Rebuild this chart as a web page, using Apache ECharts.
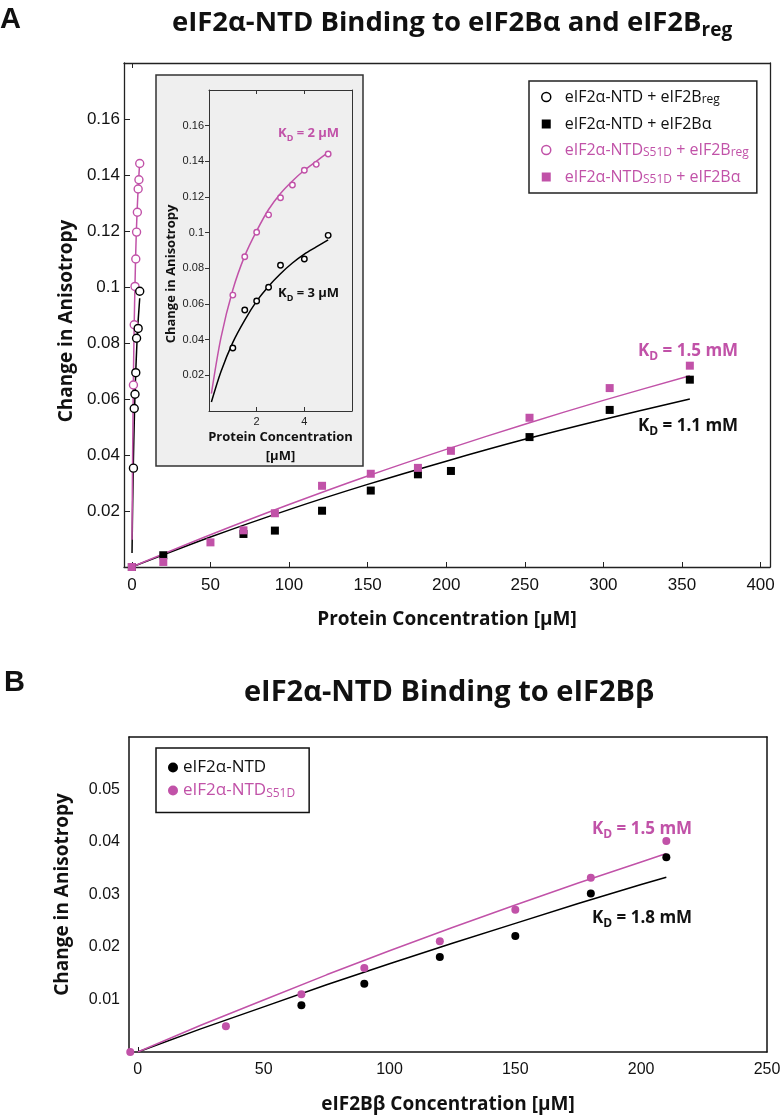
<!DOCTYPE html>
<html><head><meta charset="utf-8">
<script src="https://cdn.jsdelivr.net/npm/echarts@6/dist/echarts.min.js"></script>
<style>html,body{margin:0;padding:0;background:#fff}#c{width:781px;height:1116px}</style>
</head><body><div id="c"></div>
<script>
const MAG = '#c152a8';
const BLK = '#000000';
const UI = "'Open Sans', 'Noto Sans', sans-serif";
const NUM = "'Liberation Sans', Arial, sans-serif";

// ---- Panel A, low concentration (µM) : eIF2Breg ----
const regX = [1, 1.5, 2, 2.5, 3, 3.5, 4, 4.5, 5];
const s51dRegY = [0.065, 0.0865, 0.1002, 0.110, 0.1196, 0.1267, 0.135, 0.1383, 0.1441];
const ntdRegX = [1, 1.5, 2, 2.5, 3, 4, 5];
const ntdRegY = [0.0353, 0.0566, 0.0617, 0.0694, 0.0817, 0.0852, 0.0985];
const fitRegX = [0.1, 0.5, 1, 1.5, 2, 2.5, 3, 3.5, 4, 4.5, 5];
const fitS51dRegY = [0.0097, 0.041, 0.068, 0.087, 0.101, 0.113, 0.122, 0.129, 0.135, 0.140, 0.145];
const fitNtdRegY = [0.005, 0.022, 0.0385, 0.051, 0.0616, 0.070, 0.077, 0.083, 0.088, 0.092, 0.096];

// ---- Panel A, eIF2Bα (µM) ----
const ntdAlphaX = [0, 20, 71, 91, 121, 152, 182, 203, 253, 304, 355];
const ntdAlphaY = [0, 0.0042, 0.0118, 0.013, 0.0201, 0.0273, 0.0331, 0.0343, 0.0464, 0.0561, 0.0669];
const s51dAlphaX = [0, 20, 50, 71, 91, 121, 152, 182, 203, 253, 304, 355];
const s51dAlphaY = [0, 0.0018, 0.0088, 0.0131, 0.0192, 0.029, 0.0333, 0.0354, 0.0415, 0.0533, 0.0639, 0.0719];
const fitAlphaX = [0, 50, 100, 150, 200, 250, 300, 355];
const fitNtdAlphaY = [0, 0.0107, 0.0205, 0.0295, 0.0378, 0.0456, 0.0527, 0.060];
const fitS51dAlphaY = [0, 0.0115, 0.0223, 0.0325, 0.042, 0.051, 0.0595, 0.0683];

// ---- Panel B, eIF2Bβ (µM) ----
const ntdBetaX = [65, 90, 120, 150, 180, 210];
const ntdBetaY = [0.0089, 0.013, 0.0181, 0.0221, 0.0302, 0.0371];
const s51dBetaX = [-3, 35, 65, 90, 120, 150, 180, 210];
const s51dBetaY = [0, 0.0049, 0.011, 0.016, 0.0211, 0.0271, 0.0332, 0.0402];
const fitBetaX = [0, 25, 50, 75, 100, 125, 150, 175, 200, 210];
const fitNtdBetaY = [0, 0.0044, 0.0086, 0.0128, 0.0168, 0.0207, 0.0245, 0.0283, 0.0319, 0.0333];
const fitS51dBetaY = [0, 0.0051, 0.0099, 0.0147, 0.0193, 0.0237, 0.028, 0.0322, 0.0362, 0.0378];

// ---- tick labels ----
const xTicksA = [0, 50, 100, 150, 200, 250, 300, 350, 400];
const yTicksA = [0.02, 0.04, 0.06, 0.08, 0.1, 0.12, 0.14, 0.16];
const xTicksInset = [2, 4];
const yTicksInset = [0.02, 0.04, 0.06, 0.08, 0.1, 0.12, 0.14, 0.16];
const xTicksB = [0, 50, 100, 150, 200, 250];
const yTicksB = [0.01, 0.02, 0.03, 0.04, 0.05];

const pairs = (xs, ys) => xs.map((x, i) => [x, ys[i]]);
const fmt = v => String(+(+v).toFixed(3));

const chart = echarts.init(document.getElementById('c'), null, {renderer: 'canvas'});

function fitLine(name, xi, yi, xs, ys, color, z, smooth) {
  return {name, type: 'line', xAxisIndex: xi, yAxisIndex: yi, data: pairs(xs, ys),
    smooth: smooth === false ? false : 0.3, symbol: 'none', silent: true, z: z || 2,
    lineStyle: {color, width: 1.5}};
}
function pts(name, xi, yi, xs, ys, symbol, size, fill, border, z) {
  return {name, type: 'scatter', xAxisIndex: xi, yAxisIndex: yi, data: pairs(xs, ys),
    symbol, symbolSize: size, silent: true, z: z || 3,
    itemStyle: {color: fill, borderColor: border, borderWidth: symbol === 'circle' && fill === '#fff' ? 1.4 : 0, opacity: 1}};
}

const kd = (txt, color, size) => ({
  text: '{k|K}{d|D}{k| = ' + txt + '}',
  rich: {
    k: {fontSize: size, fontWeight: 'bold', fontFamily: UI, fill: color, lineHeight: size + 6},
    d: {fontSize: Math.round(size * 0.72), fontWeight: 'bold', fontFamily: UI, fill: color, verticalAlign: 'bottom', lineHeight: Math.round(size * 0.72)}
  }
});

const axisLineStyle = {color: '#222', width: 1.3};

const option = {
  animation: false,
  backgroundColor: '#fff',
  grid: [
    {left: 124, top: 63, width: 646, height: 504, show: false, outerBoundsMode: 'none'},
    {left: 209, top: 90, width: 143, height: 321, show: false, outerBoundsMode: 'none'},
    {left: 129, top: 737, width: 638, height: 315, show: false, outerBoundsMode: 'none'}
  ],
  xAxis: [
    {gridIndex: 0, type: 'value', min: -5, max: 406, position: 'bottom',
      axisLine: {show: true, onZero: false, lineStyle: axisLineStyle},
      axisTick: {show: true, inside: true, length: 5, customValues: xTicksA, lineStyle: {color: '#222'}},
      axisLabel: {customValues: xTicksA, margin: 10, fontSize: 17, fontFamily: NUM, color: '#111'},
      splitLine: {show: false},
      name: 'Protein Concentration [µM]', nameLocation: 'middle', nameGap: 43,
      nameTextStyle: {fontSize: 19, fontWeight: 'bold', fontFamily: UI, color: '#111'}},
    {gridIndex: 0, type: 'value', min: -5, max: 406, position: 'top',
      axisLine: {show: true, onZero: false, lineStyle: axisLineStyle},
      axisTick: {show: true, inside: true, length: 5, customValues: [0], lineStyle: {color: '#222'}},
      axisLabel: {show: false}, splitLine: {show: false}},
    {gridIndex: 1, type: 'value', min: 0, max: 6, interval: 2, position: 'bottom',
      axisLine: {show: true, onZero: false, lineStyle: {color: '#333', width: 1}},
      axisTick: {show: true, inside: true, length: 4, customValues: xTicksInset, lineStyle: {color: '#333'}},
      axisLabel: {customValues: xTicksInset, margin: 5, fontSize: 11, fontFamily: NUM, color: '#222'},
      splitLine: {show: false},
      name: 'Protein Concentration\n[µM]', nameLocation: 'middle', nameGap: 17,
      nameTextStyle: {fontSize: 13, fontWeight: 'bold', fontFamily: UI, color: '#111', lineHeight: 19}},
    {gridIndex: 1, type: 'value', min: 0, max: 6, interval: 2, position: 'top',
      axisLine: {show: true, onZero: false, lineStyle: {color: '#333', width: 1}},
      axisTick: {show: true, inside: true, length: 4, customValues: xTicksInset, lineStyle: {color: '#333'}},
      axisLabel: {show: false}, splitLine: {show: false}},
    {gridIndex: 2, type: 'value', min: -3.5, max: 250, position: 'bottom',
      axisLine: {show: true, onZero: false, lineStyle: {color: '#111', width: 1.5}},
      axisTick: {show: true, inside: true, length: 5, customValues: [0], lineStyle: {color: '#111'}},
      axisLabel: {customValues: xTicksB, margin: 10, fontSize: 16, fontFamily: NUM, color: '#111'},
      splitLine: {show: false},
      name: 'eIF2Bβ Concentration [µM]', nameLocation: 'middle', nameGap: 43,
      nameTextStyle: {fontSize: 19, fontWeight: 'bold', fontFamily: UI, color: '#111'}},
    {gridIndex: 2, type: 'value', min: -3.5, max: 250, position: 'top',
      axisLine: {show: true, onZero: false, lineStyle: {color: '#111', width: 1.5}},
      axisTick: {show: false}, axisLabel: {show: false}, splitLine: {show: false}}
  ],
  yAxis: [
    {gridIndex: 0, type: 'value', min: 0, max: 0.18, interval: 0.02, position: 'left',
      axisLine: {show: true, onZero: false, lineStyle: axisLineStyle},
      axisTick: {show: true, inside: true, length: 6, customValues: yTicksA, lineStyle: {color: '#222'}},
      axisLabel: {customValues: yTicksA, margin: 4, fontSize: 17, fontFamily: NUM, color: '#111', formatter: fmt},
      splitLine: {show: false},
      name: 'Change in Anisotropy', nameLocation: 'middle', nameGap: 46,
      nameTextStyle: {fontSize: 19, fontWeight: 'bold', fontFamily: UI, color: '#111', padding: [0, 12, 0, 0]}},
    {gridIndex: 0, type: 'value', min: 0, max: 0.18, position: 'right',
      axisLine: {show: true, onZero: false, lineStyle: axisLineStyle},
      axisTick: {show: false}, axisLabel: {show: false}, splitLine: {show: false}},
    {gridIndex: 1, type: 'value', min: 0, max: 0.18, interval: 0.02, position: 'left',
      axisLine: {show: true, onZero: false, lineStyle: {color: '#333', width: 1}},
      axisTick: {show: true, inside: false, length: 4, customValues: yTicksInset, lineStyle: {color: '#333'}},
      axisLabel: {customValues: yTicksInset, margin: 5, fontSize: 11, fontFamily: NUM, color: '#222', formatter: fmt},
      splitLine: {show: false}},
    {gridIndex: 1, type: 'value', min: 0, max: 0.18, position: 'right',
      axisLine: {show: true, onZero: false, lineStyle: {color: '#333', width: 1}},
      axisTick: {show: false}, axisLabel: {show: false}, splitLine: {show: false}},
    {gridIndex: 2, type: 'value', min: 0, max: 0.06, interval: 0.01, position: 'left',
      axisLine: {show: true, onZero: false, lineStyle: {color: '#111', width: 1.5}},
      axisTick: {show: false},
      axisLabel: {customValues: yTicksB, margin: 9, fontSize: 16, fontFamily: NUM, color: '#111', formatter: fmt},
      splitLine: {show: false},
      name: 'Change in Anisotropy', nameLocation: 'middle', nameGap: 57,
      nameTextStyle: {fontSize: 19, fontWeight: 'bold', fontFamily: UI, color: '#111'}},
    {gridIndex: 2, type: 'value', min: 0, max: 0.06, position: 'right',
      axisLine: {show: true, onZero: false, lineStyle: {color: '#111', width: 1.5}},
      axisTick: {show: false}, axisLabel: {show: false}, splitLine: {show: false}}
  ],
  legend: [
    {left: 529, top: 81, orient: 'vertical', padding: [8, 8, 7, 12],
      borderColor: '#222', borderWidth: 1.5, backgroundColor: '#fff',
      itemWidth: 9, itemHeight: 9, itemGap: 10, selectedMode: false,
      data: [
        {name: 'ntdReg', icon: 'circle', itemStyle: {color: '#fff', borderColor: BLK, borderWidth: 1.5}},
        {name: 'ntdAlpha', icon: 'rect', itemStyle: {color: BLK, borderWidth: 0}},
        {name: 's51dReg', icon: 'circle', itemStyle: {color: '#fff', borderColor: MAG, borderWidth: 1.5}},
        {name: 's51dAlpha', icon: 'rect', itemStyle: {color: MAG, borderWidth: 0}}
      ],
      formatter: n => ({
        ntdReg: '{g|}{t|eIF2α-NTD + eIF2B}{s|reg}',
        ntdAlpha: '{g|}{t|eIF2α-NTD + eIF2Bα}',
        s51dReg: '{g|}{m|eIF2α-NTD}{ms|S51D}{m| + eIF2B}{ms|reg}',
        s51dAlpha: '{g|}{m|eIF2α-NTD}{ms|S51D}{m| + eIF2Bα}'
      })[n],
      textStyle: {fontFamily: UI, fontSize: 16, rich: {
        g: {width: 9, lineHeight: 18},
        t: {fontFamily: UI, fontSize: 16, color: '#111', lineHeight: 18},
        s: {fontFamily: UI, fontSize: 12, color: '#111', lineHeight: 12, verticalAlign: 'bottom'},
        m: {fontFamily: UI, fontSize: 16, color: MAG, lineHeight: 18},
        ms: {fontFamily: UI, fontSize: 12, color: MAG, lineHeight: 12, verticalAlign: 'bottom'}
      }}},
    {left: 156, top: 748, orient: 'vertical', padding: [11, 14, 13, 12],
      borderColor: '#111', borderWidth: 1.5, backgroundColor: '#fff',
      itemWidth: 10, itemHeight: 10, itemGap: 6, selectedMode: false,
      data: [
        {name: 'ntdBeta', icon: 'circle', itemStyle: {color: BLK}},
        {name: 's51dBeta', icon: 'circle', itemStyle: {color: MAG}}
      ],
      formatter: n => ({
        ntdBeta: '{t|eIF2α-NTD}',
        s51dBeta: '{m|eIF2α-NTD}{ms|S51D}'
      })[n],
      textStyle: {fontFamily: UI, fontSize: 17, rich: {
        t: {fontFamily: UI, fontSize: 17, color: '#111', lineHeight: 18},
        m: {fontFamily: UI, fontSize: 17, color: MAG, lineHeight: 18},
        ms: {fontFamily: UI, fontSize: 12, color: MAG, lineHeight: 12, verticalAlign: 'bottom'}
      }}}
  ],
  graphic: [
    {type: 'rect', z: -1, shape: {x: 156, y: 75, width: 207, height: 391},
      style: {fill: '#efefef', stroke: '#333', lineWidth: 1.5}},
    {type: 'text', x: 0, y: 20, style: {text: 'A', fontSize: 29, fontWeight: 'bold', fontFamily: NUM, fill: '#111', textVerticalAlign: 'middle'}},
    {type: 'text', x: 4, y: 683, style: {text: 'B', fontSize: 29, fontWeight: 'bold', fontFamily: NUM, fill: '#111', textVerticalAlign: 'middle'}},
    {type: 'text', x: 452, y: 23, style: {
      text: '{a|eIF2α-NTD Binding to eIF2Bα and eIF2B}{s|reg}', textAlign: 'center', textVerticalAlign: 'middle',
      rich: {a: {fontSize: 27.5, fontWeight: 'bold', fontFamily: UI, fill: '#111', lineHeight: 34},
             s: {fontSize: 19, fontWeight: 'bold', fontFamily: UI, fill: '#111', lineHeight: 19, verticalAlign: 'bottom'}}}},
    {type: 'text', x: 449, y: 693, style: {
      text: 'eIF2α-NTD Binding to eIF2Bβ', textAlign: 'center', textVerticalAlign: 'middle',
      fontSize: 29, fontWeight: 'bold', fontFamily: UI, fill: '#111'}},
    {type: 'text', x: 171, y: 274, rotation: Math.PI / 2, style: {
      text: 'Change in Anisotropy', textAlign: 'center', textVerticalAlign: 'middle',
      fontSize: 13, fontWeight: 'bold', fontFamily: UI, fill: '#111'}},
    {type: 'text', x: 638, y: 351, style: Object.assign(kd('1.5 mM', MAG, 17), {textVerticalAlign: 'middle'})},
    {type: 'text', x: 638, y: 426, style: Object.assign(kd('1.1 mM', '#111', 17), {textVerticalAlign: 'middle'})},
    {type: 'text', x: 278, y: 133, style: Object.assign(kd('2 µM', MAG, 13), {textVerticalAlign: 'middle'})},
    {type: 'text', x: 278, y: 293, style: Object.assign(kd('3 µM', '#111', 13), {textVerticalAlign: 'middle'})},
    {type: 'text', x: 592, y: 829, style: Object.assign(kd('1.5 mM', MAG, 17), {textVerticalAlign: 'middle'})},
    {type: 'text', x: 592, y: 918, style: Object.assign(kd('1.8 mM', '#111', 17), {textVerticalAlign: 'middle'})}
  ],
  series: [
    // Panel A main
    fitLine('fitNtdAlpha', 0, 0, fitAlphaX, fitNtdAlphaY, BLK),
    fitLine('fitS51dAlpha', 0, 0, fitAlphaX, fitS51dAlphaY, MAG),
    fitLine('fitNtdRegMain', 0, 0, fitRegX, fitNtdRegY, BLK),
    fitLine('fitS51dRegMain', 0, 0, fitRegX, fitS51dRegY, MAG),
    pts('ntdAlpha', 0, 0, ntdAlphaX, ntdAlphaY, 'rect', 8, BLK, BLK, 3),
    pts('s51dAlpha', 0, 0, s51dAlphaX, s51dAlphaY, 'rect', 8, MAG, MAG, 4),
    pts('s51dReg', 0, 0, regX, s51dRegY, 'circle', 8, '#fff', MAG, 5),
    pts('ntdReg', 0, 0, ntdRegX, ntdRegY, 'circle', 8, '#fff', BLK, 6),
    // Inset
    fitLine('fitS51dRegInset', 2, 2, fitRegX, fitS51dRegY, MAG, 5),
    fitLine('fitNtdRegInset', 2, 2, fitRegX, fitNtdRegY, BLK, 5),
    pts('s51dRegInset', 2, 2, regX, s51dRegY, 'circle', 5.5, '#fff', MAG, 6),
    pts('ntdRegInset', 2, 2, ntdRegX, ntdRegY, 'circle', 5.5, '#fff', BLK, 6),
    // Panel B
    fitLine('fitNtdBeta', 4, 4, fitBetaX, fitNtdBetaY, BLK, 2, false),
    fitLine('fitS51dBeta', 4, 4, fitBetaX, fitS51dBetaY, MAG, 2, false),
    pts('ntdBeta', 4, 4, ntdBetaX, ntdBetaY, 'circle', 8, BLK, BLK, 4),
    pts('s51dBeta', 4, 4, s51dBetaX, s51dBetaY, 'circle', 8, MAG, MAG, 5)
  ]
};
chart.setOption(option);
</script>
</body></html>
